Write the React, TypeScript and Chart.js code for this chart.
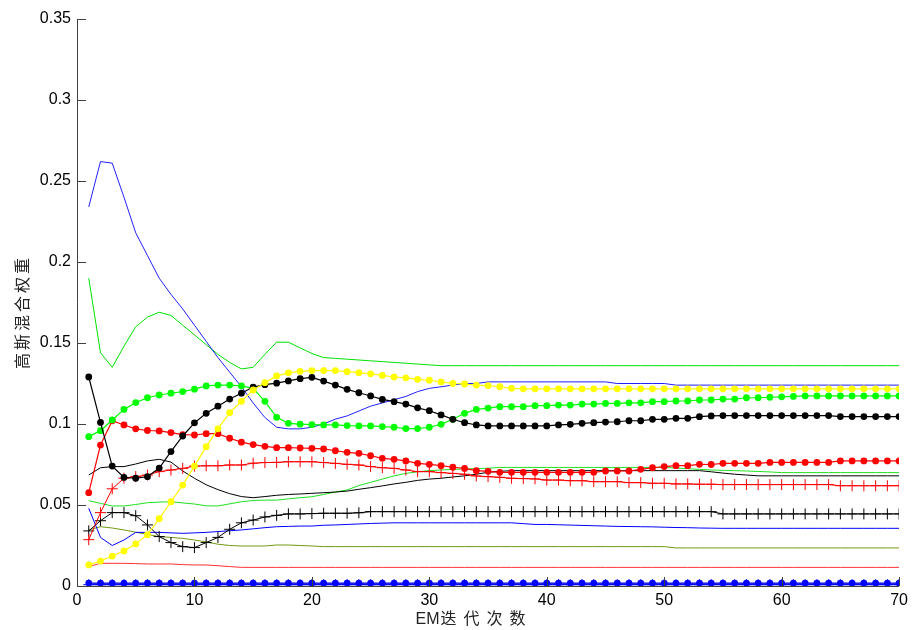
import React, { useEffect, useRef } from "react";
import { Chart, registerables } from "chart.js";

Chart.register(...registerables);

const iterations = [
  1, 2, 3, 4, 5, 6, 7, 8, 9, 10, 11, 12, 13, 14, 15, 16, 17, 18, 19, 20,
  21, 22, 23, 24, 25, 26, 27, 28, 29, 30, 31, 32, 33, 34, 35, 36, 37, 38, 39, 40,
  41, 42, 43, 44, 45, 46, 47, 48, 49, 50, 51, 52, 53, 54, 55, 56, 57, 58, 59, 60,
  61, 62, 63, 64, 65, 66, 67, 68, 69, 70,
];

const yTickValues = [0, 0.05, 0.1, 0.15, 0.2, 0.25, 0.3, 0.35];
const xTickValues = [0, 10, 20, 30, 40, 50, 60, 70];
const xTitleLatin = "EM";
const xTitleCjk = "迭代次数";
const yTitle = "高斯混合权重";

const blueTop = [
  0.234, 0.262, 0.261, 0.24, 0.218, 0.204, 0.19, 0.18, 0.171, 0.161,
  0.151, 0.141, 0.132, 0.123, 0.113, 0.104, 0.098, 0.097, 0.097, 0.098,
  0.1, 0.103, 0.105, 0.108, 0.111, 0.113, 0.115, 0.117, 0.12, 0.122,
  0.123, 0.124, 0.125, 0.125, 0.126, 0.126, 0.126, 0.126, 0.126, 0.126,
  0.126, 0.126, 0.126, 0.126, 0.126, 0.125, 0.125, 0.125, 0.125, 0.125,
  0.124, 0.124, 0.124, 0.124, 0.124, 0.124, 0.124, 0.124, 0.124, 0.124,
  0.124, 0.124, 0.124, 0.124, 0.124, 0.124, 0.124, 0.124, 0.124, 0.124,
];

const greenTop = [
  0.19, 0.144, 0.135, 0.148, 0.16, 0.166, 0.169, 0.167, 0.161, 0.155,
  0.149, 0.143, 0.138, 0.134, 0.135, 0.143, 0.1505, 0.1505, 0.147, 0.1435,
  0.141, 0.1405, 0.14, 0.1395, 0.139, 0.1385, 0.138, 0.1375, 0.137, 0.1365,
  0.136, 0.136, 0.136, 0.136, 0.136, 0.136, 0.136, 0.136, 0.136, 0.136,
  0.136, 0.136, 0.136, 0.136, 0.136, 0.136, 0.136, 0.136, 0.136, 0.136,
  0.136, 0.136, 0.136, 0.136, 0.136, 0.136, 0.136, 0.136, 0.136, 0.136,
  0.136, 0.136, 0.136, 0.136, 0.136, 0.136, 0.136, 0.136, 0.136, 0.136,
];

const yellowDot = [
  0.013, 0.0154, 0.0185, 0.0216, 0.026, 0.0317, 0.0415, 0.052, 0.0623, 0.074,
  0.086, 0.097, 0.107, 0.114, 0.121, 0.1255, 0.1297, 0.1316, 0.1325, 0.133,
  0.133, 0.133, 0.1323, 0.1317, 0.131, 0.13, 0.129, 0.1285, 0.1276, 0.127,
  0.126, 0.125, 0.1247, 0.124, 0.1237, 0.123, 0.122, 0.1217, 0.1217, 0.1217,
  0.1217, 0.1217, 0.1217, 0.1217, 0.1217, 0.1217, 0.1217, 0.1217, 0.1217, 0.1217,
  0.1217, 0.1217, 0.1217, 0.1217, 0.1217, 0.1217, 0.1217, 0.1217, 0.1217, 0.1217,
  0.1217, 0.1217, 0.1217, 0.1217, 0.1217, 0.1217, 0.1217, 0.1217, 0.1217, 0.1217,
];

const blackDot = [
  0.129, 0.101, 0.074, 0.067, 0.0665, 0.0675, 0.0728, 0.083, 0.0926, 0.1007,
  0.1066, 0.111, 0.1154, 0.119, 0.1228, 0.1243, 0.1252, 0.1266, 0.128, 0.1288,
  0.1265, 0.124, 0.1214, 0.1193, 0.1173, 0.1152, 0.1138, 0.1123, 0.11, 0.1082,
  0.1056, 0.1029, 0.1008, 0.0994, 0.0988, 0.0988, 0.0988, 0.0988, 0.0988, 0.0988,
  0.0994, 0.0998, 0.1004, 0.1008, 0.1012, 0.1014, 0.102, 0.102, 0.1029, 0.1029,
  0.1035, 0.1035, 0.1045, 0.105, 0.1052, 0.1052, 0.1052, 0.1052, 0.1052, 0.1052,
  0.1052, 0.1052, 0.1052, 0.1052, 0.1046, 0.1046, 0.1046, 0.1046, 0.1046, 0.1046,
];

const greenDot = [
  0.0922, 0.0959, 0.1025, 0.109, 0.1132, 0.1162, 0.1179, 0.119, 0.12, 0.1215,
  0.1235, 0.124, 0.124, 0.1235, 0.122, 0.114, 0.1041, 0.1004, 0.0999, 0.0996,
  0.0994, 0.0994, 0.099, 0.0988, 0.0988, 0.0984, 0.098, 0.0972, 0.0972, 0.098,
  0.0998, 0.1029, 0.1066, 0.109, 0.1098, 0.1107, 0.1107, 0.1107, 0.1113, 0.1113,
  0.1117, 0.1117, 0.1123, 0.1123, 0.1127, 0.1127, 0.1131, 0.1131, 0.1138, 0.1138,
  0.1142, 0.1142, 0.1148, 0.1148, 0.1154, 0.1154, 0.1162, 0.1162, 0.1165, 0.1168,
  0.117, 0.1173, 0.1173, 0.1173, 0.1173, 0.1173, 0.1173, 0.1173, 0.1173, 0.1173,
];

const redDot = [
  0.0576, 0.087, 0.102, 0.0994, 0.097, 0.096, 0.0957, 0.0947, 0.0935, 0.0932,
  0.094, 0.094, 0.0912, 0.0888, 0.0873, 0.0862, 0.0854, 0.0854, 0.0852, 0.085,
  0.0846, 0.0835, 0.0825, 0.0819, 0.0804, 0.0788, 0.0782, 0.0772, 0.0757, 0.0751,
  0.0743, 0.0733, 0.0726, 0.0712, 0.0708, 0.0702, 0.0702, 0.0702, 0.0702, 0.0702,
  0.0702, 0.0702, 0.0702, 0.0702, 0.071, 0.071, 0.071, 0.072, 0.073, 0.0737,
  0.0743, 0.0743, 0.0751, 0.075, 0.0757, 0.0757, 0.0757, 0.0757, 0.0763, 0.0763,
  0.0763, 0.0763, 0.0763, 0.0763, 0.0772, 0.0772, 0.0772, 0.0772, 0.0772, 0.0772,
];

const redPlus = [
  0.0286, 0.0453, 0.06, 0.0665, 0.0675, 0.0685, 0.0706, 0.0716, 0.0726, 0.074,
  0.0742, 0.0742, 0.0747, 0.0747, 0.0758, 0.0762, 0.0763, 0.0767, 0.0767, 0.0767,
  0.0762, 0.0757, 0.0751, 0.0747, 0.0737, 0.073, 0.0726, 0.0716, 0.0706, 0.0706,
  0.07, 0.0695, 0.069, 0.0679, 0.0675, 0.0671, 0.0665, 0.0663, 0.0661, 0.0654,
  0.0654, 0.065, 0.065, 0.0644, 0.0644, 0.0644, 0.0638, 0.0638, 0.0634, 0.0634,
  0.063, 0.063, 0.0628, 0.0628, 0.0626, 0.0626, 0.0626, 0.0626, 0.0626, 0.0626,
  0.0626, 0.0626, 0.0626, 0.0626, 0.0619, 0.0619, 0.0619, 0.0619, 0.0619, 0.0619,
];

const blackPlus = [
  0.034, 0.0403, 0.0453, 0.0453, 0.0434, 0.0377, 0.0305, 0.0268, 0.0243, 0.0237,
  0.0268, 0.03, 0.035, 0.039, 0.0407, 0.0426, 0.0436, 0.0445, 0.0445, 0.0447,
  0.0449, 0.0449, 0.0449, 0.0452, 0.0459, 0.0459, 0.0459, 0.0459, 0.0459, 0.0459,
  0.0459, 0.0459, 0.0459, 0.0459, 0.0459, 0.0459, 0.0459, 0.0459, 0.0459, 0.0459,
  0.0459, 0.0459, 0.0459, 0.0459, 0.0459, 0.0459, 0.0459, 0.0459, 0.0459, 0.0459,
  0.0459, 0.0459, 0.0459, 0.0459, 0.0445, 0.0445, 0.0445, 0.0445, 0.0445, 0.0445,
  0.0445, 0.0445, 0.0445, 0.0445, 0.0445, 0.0445, 0.0445, 0.0445, 0.0445, 0.0445,
];

const blackThin = [
  0.0685, 0.073, 0.0737, 0.0737, 0.0753, 0.0772, 0.0782, 0.0765, 0.071, 0.0665,
  0.0625, 0.0595, 0.057, 0.0552, 0.0545, 0.0552, 0.056, 0.0565, 0.0568, 0.0572,
  0.0576, 0.058, 0.0586, 0.0597, 0.0607, 0.0618, 0.063, 0.064, 0.0652, 0.066,
  0.0665, 0.0673, 0.068, 0.069, 0.0702, 0.0708, 0.0712, 0.0712, 0.0712, 0.0712,
  0.0712, 0.0712, 0.0712, 0.0712, 0.0712, 0.0712, 0.0712, 0.0712, 0.0712, 0.0712,
  0.0712, 0.0712, 0.0712, 0.0705, 0.0697, 0.069, 0.0685, 0.068, 0.068, 0.068,
  0.068, 0.068, 0.068, 0.068, 0.068, 0.068, 0.068, 0.068, 0.068, 0.068,
];

const greenThin = [
  0.0527, 0.051, 0.0494, 0.0494, 0.0503, 0.0514, 0.0518, 0.052, 0.0513, 0.0506,
  0.0495, 0.0494, 0.0507, 0.052, 0.0528, 0.053, 0.053, 0.0538, 0.0545, 0.0551,
  0.0565, 0.058, 0.0593, 0.062, 0.064, 0.066, 0.068, 0.0695, 0.0705, 0.0712,
  0.0716, 0.072, 0.0722, 0.0725, 0.0727, 0.0732, 0.0732, 0.0732, 0.0732, 0.0732,
  0.0732, 0.0732, 0.0732, 0.0732, 0.0732, 0.0732, 0.0732, 0.0732, 0.0732, 0.0732,
  0.0728, 0.0724, 0.072, 0.0716, 0.0714, 0.0712, 0.071, 0.0707, 0.0704, 0.07,
  0.07, 0.07, 0.07, 0.07, 0.07, 0.07, 0.07, 0.07, 0.07, 0.07,
];

const blueLow = [
  0.048, 0.03, 0.025, 0.0284, 0.0331, 0.0331, 0.0331, 0.0328, 0.0325, 0.0328,
  0.0331, 0.0336, 0.0341, 0.0346, 0.0353, 0.036, 0.0366, 0.0368, 0.037, 0.037,
  0.0375, 0.0377, 0.038, 0.0383, 0.0386, 0.0388, 0.039, 0.039, 0.039, 0.039,
  0.039, 0.039, 0.039, 0.039, 0.039, 0.039, 0.039, 0.0385, 0.038, 0.038,
  0.0378, 0.0376, 0.0374, 0.0372, 0.037, 0.0368, 0.0367, 0.0366, 0.0365, 0.0363,
  0.0361, 0.036, 0.0358, 0.0357, 0.0356, 0.0356, 0.0356, 0.0356, 0.0356, 0.0356,
  0.0356, 0.0356, 0.0356, 0.0356, 0.0356, 0.0356, 0.0356, 0.0356, 0.0356, 0.0356,
];

const oliveThin = [
  0.0346, 0.0366, 0.0358, 0.0346, 0.0332, 0.0318, 0.0305, 0.03, 0.0294, 0.0284,
  0.0272, 0.0258, 0.025, 0.0247, 0.0247, 0.0247, 0.0253, 0.0253, 0.025, 0.0247,
  0.0243, 0.0243, 0.0243, 0.0243, 0.0243, 0.0243, 0.0243, 0.0243, 0.0243, 0.0243,
  0.0243, 0.0243, 0.0243, 0.0243, 0.0243, 0.0243, 0.0243, 0.0243, 0.0243, 0.0243,
  0.0243, 0.0243, 0.0243, 0.0243, 0.0243, 0.0243, 0.0243, 0.0243, 0.0243, 0.0243,
  0.0235, 0.0235, 0.0235, 0.0235, 0.0235, 0.0235, 0.0235, 0.0235, 0.0235, 0.0235,
  0.0235, 0.0235, 0.0235, 0.0235, 0.0235, 0.0235, 0.0235, 0.0235, 0.0235, 0.0235,
];

const redThin = [
  0.012, 0.014, 0.014, 0.014, 0.0138, 0.0136, 0.0136, 0.0136, 0.0132, 0.013,
  0.013, 0.0125, 0.012, 0.0115, 0.0115, 0.0115, 0.0115, 0.0115, 0.0115, 0.0115,
  0.0115, 0.0115, 0.0115, 0.0115, 0.0115, 0.0115, 0.0115, 0.0115, 0.0115, 0.0115,
  0.0115, 0.0115, 0.0115, 0.0115, 0.0115, 0.0115, 0.0115, 0.0115, 0.0115, 0.0115,
  0.0115, 0.0115, 0.0115, 0.0115, 0.0115, 0.0115, 0.0115, 0.0115, 0.0115, 0.0115,
  0.0115, 0.0115, 0.0115, 0.0115, 0.0115, 0.0115, 0.0115, 0.0115, 0.0115, 0.0115,
  0.0115, 0.0115, 0.0115, 0.0115, 0.0115, 0.0115, 0.0115, 0.0115, 0.0115, 0.0115,
];

const blueDotBottom = [
  0.0018, 0.0018, 0.0018, 0.0018, 0.0018, 0.0018, 0.0018, 0.0018, 0.0018, 0.0018,
  0.0018, 0.0018, 0.0018, 0.0018, 0.0018, 0.0018, 0.0018, 0.0018, 0.0018, 0.0018,
  0.0018, 0.0018, 0.0018, 0.0018, 0.0018, 0.0018, 0.0018, 0.0018, 0.0018, 0.0018,
  0.0018, 0.0018, 0.0018, 0.0018, 0.0018, 0.0018, 0.0018, 0.0018, 0.0018, 0.0018,
  0.0018, 0.0018, 0.0018, 0.0018, 0.0018, 0.0018, 0.0018, 0.0018, 0.0018, 0.0018,
  0.0018, 0.0018, 0.0018, 0.0018, 0.0018, 0.0018, 0.0018, 0.0018, 0.0018, 0.0018,
  0.0018, 0.0018, 0.0018, 0.0018, 0.0018, 0.0018, 0.0018, 0.0018, 0.0018, 0.0018,
];

const bluePlusBottom = [
  0.0008, 0.0008, 0.0008, 0.0008, 0.0008, 0.0008, 0.0008, 0.0008, 0.0008, 0.0008,
  0.0008, 0.0008, 0.0008, 0.0008, 0.0008, 0.0008, 0.0008, 0.0008, 0.0008, 0.0008,
  0.0008, 0.0008, 0.0008, 0.0008, 0.0008, 0.0008, 0.0008, 0.0008, 0.0008, 0.0008,
  0.0008, 0.0008, 0.0008, 0.0008, 0.0008, 0.0008, 0.0008, 0.0008, 0.0008, 0.0008,
  0.0008, 0.0008, 0.0008, 0.0008, 0.0008, 0.0008, 0.0008, 0.0008, 0.0008, 0.0008,
  0.0008, 0.0008, 0.0008, 0.0008, 0.0008, 0.0008, 0.0008, 0.0008, 0.0008, 0.0008,
  0.0008, 0.0008, 0.0008, 0.0008, 0.0008, 0.0008, 0.0008, 0.0008, 0.0008, 0.0008,
];

const blackBottom = [
  0.0012, 0.0012, 0.0012, 0.0012, 0.0012, 0.0012, 0.0012, 0.0012, 0.0012, 0.0012,
  0.0012, 0.0012, 0.0012, 0.0012, 0.0012, 0.0012, 0.0012, 0.0012, 0.0012, 0.0012,
  0.0012, 0.0012, 0.0012, 0.0012, 0.0012, 0.0012, 0.0012, 0.0012, 0.0012, 0.0012,
  0.0012, 0.0012, 0.0012, 0.0012, 0.0012, 0.0012, 0.0012, 0.0012, 0.0012, 0.0012,
  0.0012, 0.0012, 0.0012, 0.0012, 0.0012, 0.0012, 0.0012, 0.0012, 0.0012, 0.0012,
  0.0012, 0.0012, 0.0012, 0.0012, 0.0012, 0.0012, 0.0012, 0.0012, 0.0012, 0.0012,
  0.0012, 0.0012, 0.0012, 0.0012, 0.0012, 0.0012, 0.0012, 0.0012, 0.0012, 0.0012,
];

const toPoints = (arr: number[]) => arr.map((y, i) => ({ x: iterations[i], y }));

const thin = (label: string, data: number[], color: string) => ({
  label,
  data: toPoints(data),
  borderColor: color,
  backgroundColor: color,
  borderWidth: 1,
  pointRadius: 0,
  tension: 0,
});

const dotted = (label: string, data: number[], color: string) => ({
  label,
  data: toPoints(data),
  borderColor: color,
  backgroundColor: color,
  borderWidth: 1.2,
  pointStyle: "circle",
  pointRadius: 3.4,
  pointBorderWidth: 0,
  pointBackgroundColor: color,
  tension: 0,
});

const plus = (label: string, data: number[], color: string) => ({
  label,
  data: toPoints(data),
  borderColor: color,
  backgroundColor: color,
  borderWidth: 1,
  pointStyle: "cross",
  pointRadius: 5.5,
  pointBorderWidth: 1,
  pointBorderColor: color,
  tension: 0,
});

const axesPlugin = {
  id: "matlabAxes",
  afterDraw(chart: any) {
    const { ctx, chartArea, scales } = chart;
    const xs = scales.x;
    const ys = scales.y;
    const left = chartArea.left;
    const bottom = chartArea.bottom;
    ctx.save();
    ctx.strokeStyle = "#404040";
    ctx.lineWidth = 1;
    ctx.beginPath();
    ctx.moveTo(left + 0.5, chartArea.top);
    ctx.lineTo(left + 0.5, bottom + 0.5);
    ctx.lineTo(chartArea.right, bottom + 0.5);
    yTickValues.forEach((v) => {
      const y = Math.round(ys.getPixelForValue(v)) + 0.5;
      ctx.moveTo(left, y);
      ctx.lineTo(left + 9, y);
    });
    xTickValues.forEach((v) => {
      const x = Math.round(xs.getPixelForValue(v)) + 0.5;
      ctx.moveTo(x, bottom);
      ctx.lineTo(x, bottom - 9);
    });
    ctx.stroke();

    // x-axis title: Latin part unspaced, CJK part letter-spaced
    ctx.fillStyle = "#222";
    ctx.textBaseline = "middle";
    ctx.textAlign = "left";
    ctx.font = '16px "Liberation Sans", "Noto Sans CJK SC", sans-serif';
    try { (ctx as any).letterSpacing = "0px"; } catch (e) {}
    const w1 = ctx.measureText(xTitleLatin).width;
    try { (ctx as any).letterSpacing = "7px"; } catch (e) {}
    const w2 = ctx.measureText(xTitleCjk).width;
    const startX = 474 - (w1 + 1 + w2) / 2;
    try { (ctx as any).letterSpacing = "0px"; } catch (e) {}
    ctx.fillText(xTitleLatin, startX, 620);
    try { (ctx as any).letterSpacing = "7px"; } catch (e) {}
    ctx.fillText(xTitleCjk, startX + w1 + 1, 620);

    // y-axis title
    ctx.textAlign = "center";
    ctx.translate(22, 312);
    ctx.rotate(-Math.PI / 2);
    try { (ctx as any).letterSpacing = "3px"; } catch (e) {}
    ctx.font = '16px "Noto Sans CJK SC", sans-serif';
    ctx.fillText(yTitle, 0, 0);
    ctx.restore();
  },
};

export default function App() {
  const ref = useRef<HTMLCanvasElement>(null);

  useEffect(() => {
    if (!ref.current) return;
    const chart = new Chart(ref.current, {
      type: "line",
      data: {
        datasets: [
          dotted("黄点", yellowDot, "#ffff00"),
          dotted("黑点", blackDot, "#000000"),
          dotted("绿点", greenDot, "#00ff00"),
          dotted("红点", redDot, "#ff0000"),
          plus("红十字", redPlus, "#ff0000"),
          plus("黑十字", blackPlus, "#000000"),
          dotted("蓝点底", blueDotBottom, "#0000ff"),
          plus("蓝十字底", bluePlusBottom, "#0000ff"),
          thin("黑底", blackBottom, "#000000"),
          thin("蓝上", blueTop, "#2020ff"),
          thin("绿上", greenTop, "#00e000"),
          thin("黑线", blackThin, "#000000"),
          thin("绿线", greenThin, "#20e020"),
          thin("蓝下", blueLow, "#0000ff"),
          thin("橄榄", oliveThin, "#6f9a10"),
          thin("红下", redThin, "#ff3030"),
        ] as any,
      },
      options: {
        animation: false,
        responsive: false,
        maintainAspectRatio: false,
        layout: { padding: { top: 19, right: 9, left: 0, bottom: 0 } },
        plugins: { legend: { display: false }, tooltip: { enabled: false } },
        events: [],
        scales: {
          x: {
            type: "linear",
            min: 0,
            max: 70,
            grid: { display: false, drawTicks: false },
            border: { display: false },
            afterFit: (s: any) => { s.height = 44; },
            afterBuildTicks: (s: any) => { s.ticks = xTickValues.map((v) => ({ value: v })); },
            ticks: {
              color: "#000",
              padding: 5,
              maxRotation: 0,
              font: { family: '"Liberation Sans", Arial, sans-serif', size: 16 },
              callback: (v: any) => String(v),
            },
          },
          y: {
            type: "linear",
            min: 0,
            max: 0.35,
            grid: { display: false, drawTicks: false },
            border: { display: false },
            afterFit: (s: any) => { s.width = 77; },
            afterBuildTicks: (s: any) => { s.ticks = yTickValues.map((v) => ({ value: v })); },
            ticks: {
              color: "#000",
              padding: 6,
              font: { family: '"Liberation Sans", Arial, sans-serif', size: 16 },
              callback: (v: any) => String(Number(Number(v).toFixed(2))),
            },
          },
        },
      } as any,
      plugins: [axesPlugin],
    });
    return () => chart.destroy();
  }, []);

  return (
    <div style={{ position: "absolute", left: 0, top: 0, width: 913, height: 630, background: "#fff" }}>
      <canvas ref={ref} width={913} height={630} style={{ display: "block" }} />
    </div>
  );
}
